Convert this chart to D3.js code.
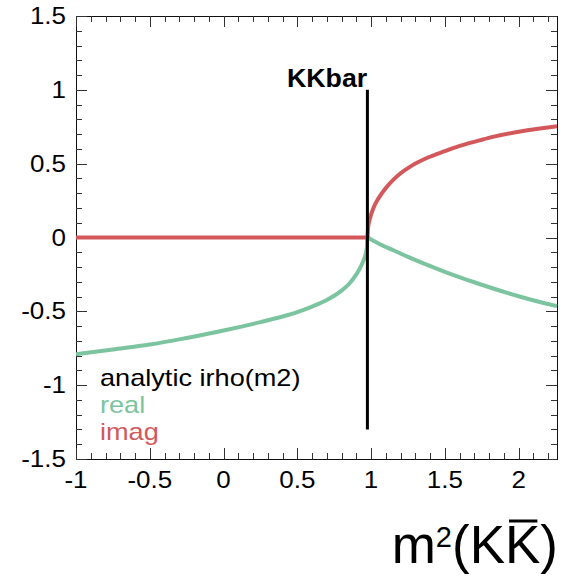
<!DOCTYPE html>
<html>
<head>
<meta charset="utf-8">
<script src="https://cdn.jsdelivr.net/npm/d3@7"></script>
<style>
body { margin: 0; background: #fff; }
svg text { font-family: "Liberation Sans", Arial, sans-serif; }
</style>
</head>
<body>
<svg width="566" height="576"></svg>
<script>
// real part of i*rho(m2)
var realM2 = [-1, -0.75, -0.5, -0.25, 0, 0.25, 0.4, 0.5, 0.6, 0.7, 0.8, 0.85, 0.9, 0.93, 0.95, 0.965, 0.972, 0.975,
	1.0, 1.05, 1.155, 1.25, 1.381, 1.5, 1.607, 1.75, 1.833, 2.0, 2.06, 2.26];
var realVal = [-0.79, -0.758, -0.725, -0.68, -0.63, -0.573, -0.535, -0.505, -0.468, -0.423, -0.36, -0.315, -0.25, -0.198, -0.152, -0.105, -0.062, 0,
	-0.013, -0.04, -0.088, -0.131, -0.186, -0.233, -0.272, -0.32, -0.347, -0.398, -0.415, -0.465];

// imaginary part
var imagM2 = [-1, 0.975, 0.98, 0.99, 1.0, 1.02, 1.05, 1.1, 1.155, 1.2, 1.268, 1.381, 1.5, 1.607, 1.75, 1.833, 2.0, 2.06, 2.26];
var imagVal = [0, 0, 0.07, 0.12, 0.155, 0.21, 0.265, 0.335, 0.395, 0.435, 0.482, 0.54, 0.585, 0.622, 0.662, 0.683, 0.716, 0.726, 0.753];

var threshold = 0.975;
var markerTop = 1.0;
var markerBottom = -1.3;

var xTicks = [-1, -0.5, 0, 0.5, 1, 1.5, 2];
var xTickLabels = ['-1', '-0.5', '0', '0.5', '1', '1.5', '2'];
var yTicks = [-1.5, -1, -0.5, 0, 0.5, 1, 1.5];
var yTickLabels = ['-1.5', '-1', '-0.5', '0', '0.5', '1', '1.5'];

var legendLabels = ['analytic irho(m2)', 'real', 'imag'];

var svg = d3.select('svg');
var padL = 76, padR = 557, padT = 16, padB = 459;

var green = '#7cc4a0';
var red = '#d3585c';
var stretch = 1.13;

var xScale = d3.scaleLinear().domain([-1, 2.26]).range([padL, padR]);
var yScale = d3.scaleLinear().domain([-1.5, 1.5]).range([padB, padT]);

var xMinor = d3.range(-10, 23).map(function (i) { return i / 10; });
var yMinor = d3.range(-15, 16).map(function (i) { return i / 10; });

function isMajor(v) {
	return Math.abs(v * 2 - Math.round(v * 2)) < 1e-6;
}

// frame
svg.append('rect')
	.attr('x', padL + 0.5).attr('y', padT + 0.5)
	.attr('width', padR - padL).attr('height', padB - padT)
	.attr('fill', 'none').attr('stroke', '#111').attr('stroke-width', 1);

var ticks = svg.append('g').attr('stroke', '#333').attr('stroke-width', 1);

xMinor.forEach(function (v) {
	var len = isMajor(v) ? 11 : 6;
	var x = Math.round(xScale(v)) + 0.5;
	ticks.append('line').attr('x1', x).attr('x2', x).attr('y1', padB).attr('y2', padB - len);
	ticks.append('line').attr('x1', x).attr('x2', x).attr('y1', padT).attr('y2', padT + len);
});
yMinor.forEach(function (v) {
	var len = isMajor(v) ? 11 : 6;
	var y = Math.round(yScale(v)) + 0.5;
	ticks.append('line').attr('x1', padL).attr('x2', padL + len).attr('y1', y).attr('y2', y);
	ticks.append('line').attr('x1', padR).attr('x2', padR - len).attr('y1', y).attr('y2', y);
});

function label(x, y, txt, anchor, size, sx, color, weight) {
	var g = svg.append('g').attr('transform', 'translate(' + x + ',' + y + ') scale(' + sx + ',1)');
	return g.append('text')
		.attr('text-anchor', anchor)
		.style('font-size', size + 'px')
		.style('font-weight', weight || 'normal')
		.attr('fill', color || '#000')
		.text(txt);
}

xTicks.forEach(function (v, i) {
	label(xScale(v), 488, xTickLabels[i], 'middle', 23, stretch);
});
yTicks.forEach(function (v, i) {
	label(66, yScale(v) + 8, yTickLabels[i], 'end', 23, stretch);
});

// curves
var line = d3.line()
	.x(function (d) { return xScale(d[0]); })
	.y(function (d) { return yScale(d[1]); })
	.curve(d3.curveMonotoneX);

svg.append('path')
	.datum(d3.zip(realM2, realVal))
	.attr('d', line)
	.attr('fill', 'none').attr('stroke', green).attr('stroke-width', 4);

svg.append('path')
	.datum(d3.zip(imagM2, imagVal))
	.attr('d', line)
	.attr('fill', 'none').attr('stroke', red).attr('stroke-width', 4);

// threshold marker
svg.append('line')
	.attr('x1', xScale(threshold)).attr('x2', xScale(threshold))
	.attr('y1', yScale(markerTop)).attr('y2', yScale(markerBottom))
	.attr('stroke', '#000').attr('stroke-width', 3);

label(287, 87, 'KKbar', 'start', 25, 1.07, '#000', 'bold');

// legend
var legendColors = ['#000', green, red];
legendLabels.forEach(function (t, i) {
	label(100, 386 + i * 27, t, 'start', 23, 1.18, legendColors[i]);
});

// x axis title m^2(K Kbar)
var tg = svg.append('g').attr('transform', 'translate(558,563)');
var title = tg.append('text').attr('text-anchor', 'end').style('font-size', '53px').attr('fill', '#000');
title.append('tspan').text('m');
title.append('tspan').attr('dy', -16).style('font-size', '29px').text('2');
title.append('tspan').attr('dy', 16).text('(KK)');
var n = 'm2(KK'.length - 1;
var s = title.node().getStartPositionOfChar(n);
var e = title.node().getEndPositionOfChar(n);
tg.append('line')
	.attr('x1', s.x + 4).attr('x2', e.x - 3)
	.attr('y1', -42).attr('y2', -42)
	.attr('stroke', '#000').attr('stroke-width', 3);
</script>
</body>
</html>
